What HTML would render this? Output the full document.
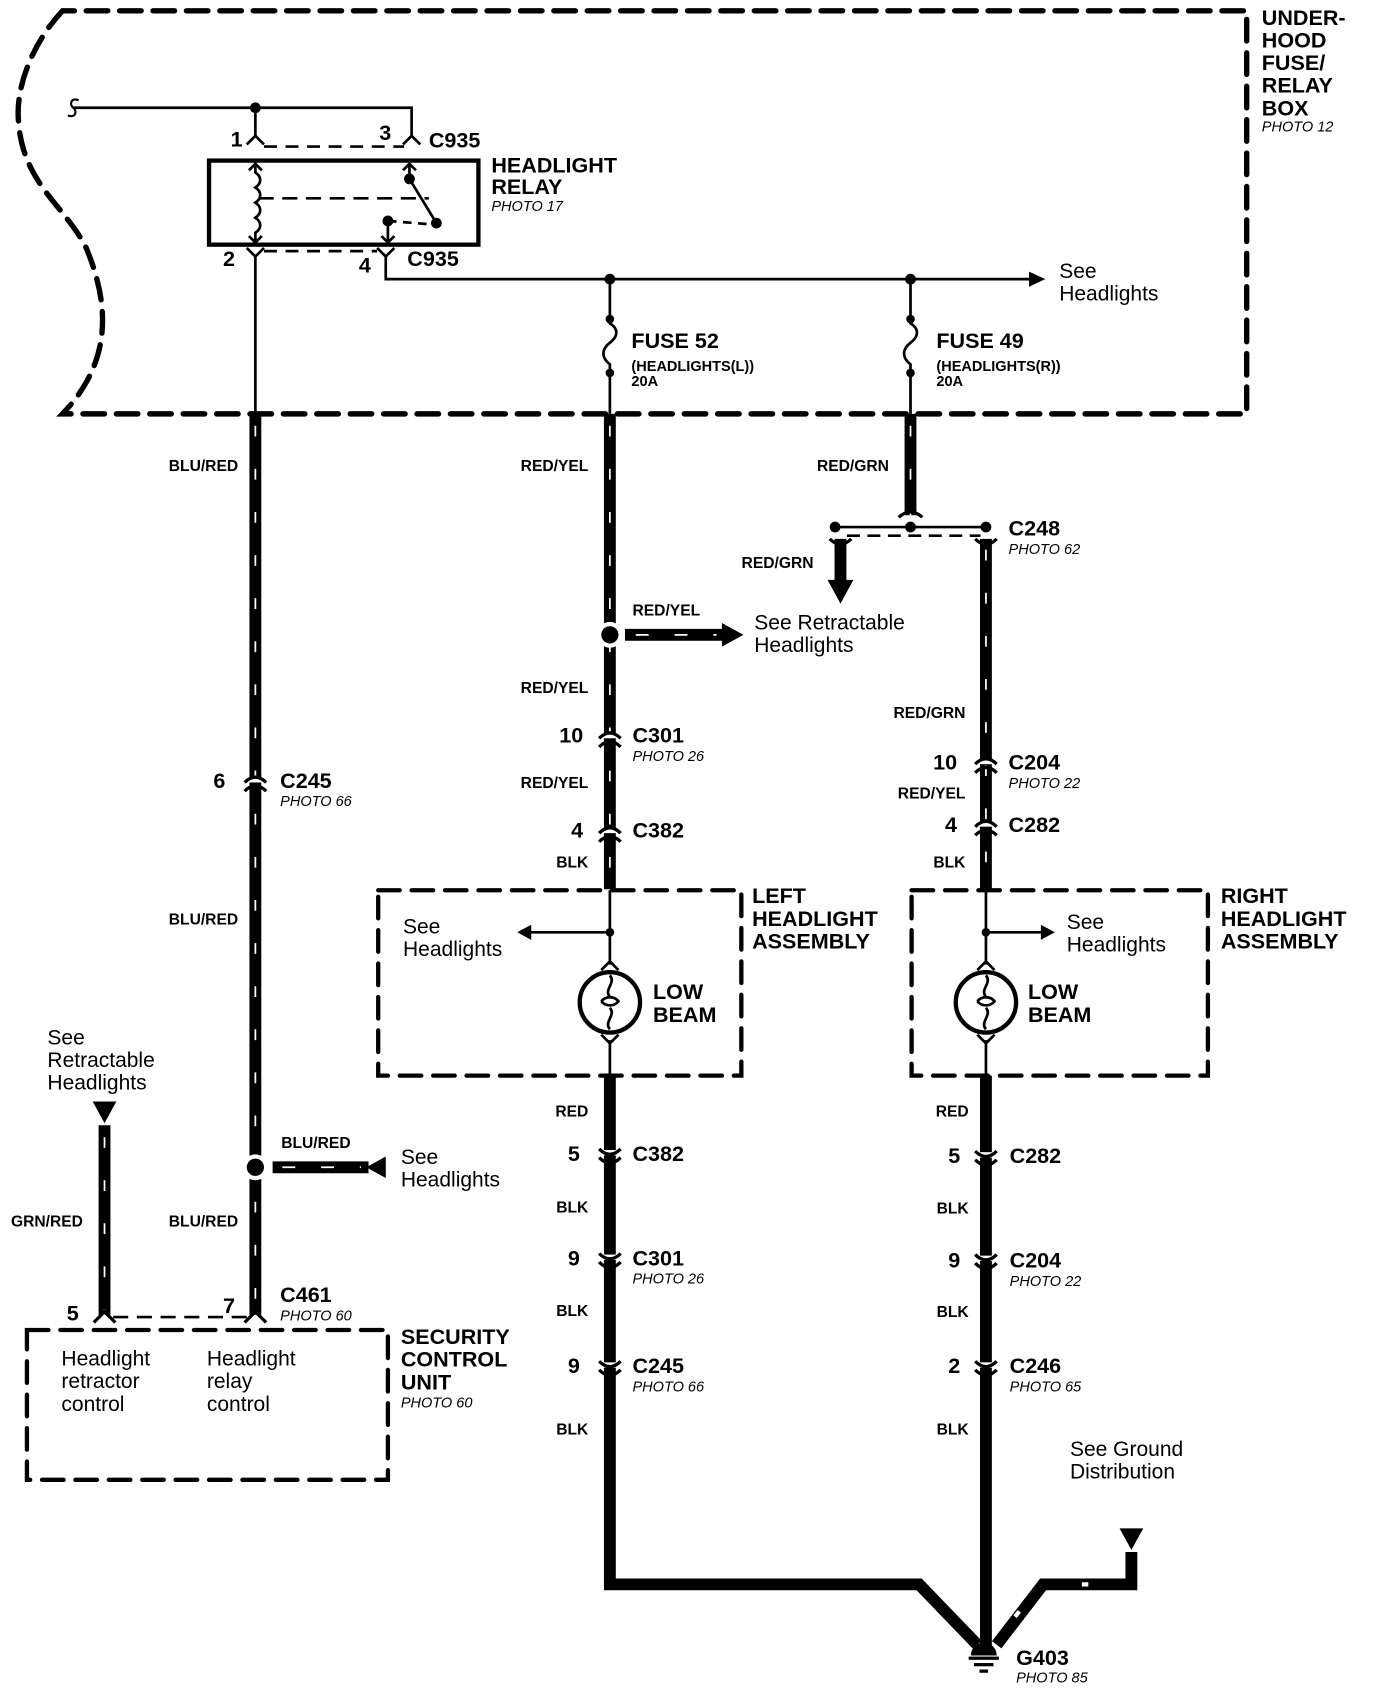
<!DOCTYPE html>
<html><head><meta charset="utf-8"><style>
html,body{margin:0;padding:0;background:#fff}
svg{display:block}
text{font-family:"Liberation Sans",Arial,sans-serif;fill:#000}
.b{font-weight:bold;font-size:20px}
.w{font-weight:bold;font-size:14.5px}
.i{font-style:italic;font-size:13.5px}
.r{font-size:19.5px}
</style></head><body>
<svg width="1376" height="1690" viewBox="0 0 1277 1568" preserveAspectRatio="none" xmlns="http://www.w3.org/2000/svg">
<g fill="none" stroke="#000" stroke-linecap="round">
<path d="M58,10 C30,40 15,80 17,110 C20,170 60,190 80,230 C105,290 100,340 58,384 L1157,384 L1157,10 Z" stroke-width="5" stroke-dasharray="20 11"/>
<rect x="351" y="826" width="337" height="172" stroke-width="4" stroke-dasharray="20 11"/>
<rect x="846" y="826" width="275" height="172" stroke-width="4" stroke-dasharray="20 11"/>
<rect x="25" y="1234" width="335" height="139" stroke-width="4" stroke-dasharray="20 11"/>
</g>
<g fill="none" stroke="#000" stroke-width="2.5">
<path d="M68,100 L382,100 L382,126"/>
<path d="M237,100 L237,126"/>
<path d="M73,93 C66,90 64,97 68,100 C72,103 70,110 63,107" stroke-width="2"/>
<path d="M229,134 L237,126 L245,134 M374,134 L382,126 L390,134"/>
<path d="M245,136 L375,136" stroke-dasharray="12 8"/>
<rect x="194" y="149" width="250" height="78" stroke-width="4"/>
<path d="M237,152 L237,160 C243,164 243,170 237,174 C243,178 243,184 237,188 C243,192 243,198 237,202 C243,206 243,212 237,216 L237,225"/>
<path d="M231,158 L237,152 L243,158 M231,219 L237,225 L243,219"/>
<path d="M240,184 L398,184" stroke-dasharray="14 8"/>
<path d="M380,152 L380,166 L405,207"/>
<path d="M374,158 L380,152 L386,158"/>
<path d="M360,205 L398,208" stroke-dasharray="8 6"/>
<path d="M360,205 L360,225 M354,219 L360,225 L366,219"/>
<path d="M229,230 L237,238 L245,230 M237,238 L237,384"/>
<path d="M350,230 L358,238 L366,230 M358,238 L358,259 L955,259"/>
<path d="M245,233 L350,233" stroke-dasharray="12 8"/>
<path d="M566,259 L566,300 C574,305 574,312 566,318 C558,324 558,332 566,338 L566,384"/>
<path d="M845,259 L845,300 C853,305 853,312 845,318 C837,324 837,332 845,338 L845,384"/>
<path d="M775,489 L915,489"/>
<path d="M786,497 L910,497" stroke-dasharray="12 7"/>
<path d="M566,826 L566,895 M566,965 L566,998 M566,865 L492,865"/>
<path d="M915,826 L915,895 M915,965 L915,998 M915,865 L968,865"/>
<path d="M558,900 L566,892 L574,900 M558,960 L566,968 L574,960 M907,900 L915,892 L923,900 M907,960 L915,968 L923,960"/>
<circle cx="566" cy="930" r="28" stroke-width="4"/>
<circle cx="915" cy="930" r="28" stroke-width="4"/>
<path d="M566,905 C572,912 560,918 566,925 M566,935 C572,942 560,948 566,955 M558,929 C562,924 570,924 574,929 C570,934 562,934 558,929"/>
<path d="M915,905 C921,912 909,918 915,925 M915,935 C921,942 909,948 915,955 M907,929 C911,924 919,924 923,929 C919,934 911,934 907,929"/>
<path d="M105,1222 L230,1222" stroke-dasharray="14 8"/>
</g>
<g fill="#000">
<circle cx="237" cy="100" r="5"/><circle cx="380" cy="166" r="5"/><circle cx="405" cy="207" r="5"/><circle cx="360" cy="205" r="5"/>
<circle cx="566" cy="259" r="5"/><circle cx="845" cy="259" r="5"/>
<circle cx="566" cy="296" r="4"/><circle cx="566" cy="346" r="4"/><circle cx="845" cy="296" r="4"/><circle cx="845" cy="346" r="4"/>
<circle cx="775" cy="489" r="5"/><circle cx="845" cy="489" r="5"/><circle cx="915" cy="489" r="5"/>
<circle cx="566" cy="865" r="4"/><circle cx="915" cy="865" r="4"/>
<polygon points="955,252 970,259 955,266"/>
<polygon points="493,858 480,865 493,872"/>
<polygon points="966,858 979,865 966,872"/>
<polygon points="670,578 690,589 670,600"/>
<polygon points="768,538 792,538 780,560"/>
<polygon points="340,1083 358,1073 358,1093"/>
<polygon points="86,1022 108,1022 97,1042"/>
<polygon points="1039,1418 1061,1418 1050,1438"/>
<path d="M901,1536 a12,12 0 0 1 24,0 Z"/>
<rect x="899" y="1537" width="28" height="3"/><rect x="904" y="1543" width="18" height="3"/><rect x="909" y="1549" width="8" height="3"/>
</g>
<g fill="none" stroke="#000" stroke-width="11">
<path d="M237,384 L237,1220"/>
<path d="M97,1044 L97,1220"/>
<path d="M566,384 L566,825"/>
<path d="M845,384 L845,478"/>
<path d="M780,500 L780,540"/>
<path d="M915,500 L915,826"/>
<path d="M580,589 L672,589"/>
<path d="M253,1083 L342,1083"/>
<path d="M566,998 L566,1470 L853,1470 L907,1526"/>
<path d="M915,998 L915,1528"/>
<path d="M925,1526 L968,1470 L1050,1470 L1050,1440"/>
</g>
<g fill="none" stroke="#fff" stroke-width="1.6">
<path d="M237,395 L237,1220 M97,1055 L97,1220 M566,395 L566,825 M845,395 L845,478 M915,510 L915,826" stroke-dasharray="10 30"/>
<path d="M590,589 L665,589 M262,1083 L335,1083" stroke-dasharray="12 24"/>
<path d="M1004,1470 L1010,1470 M942,1500 L946,1495" stroke-width="4"/>
</g>
<circle cx="566" cy="589" r="12" fill="#fff"/><circle cx="566" cy="589" r="8" fill="#000"/>
<circle cx="237" cy="1083" r="12" fill="#fff"/><circle cx="237" cy="1083" r="8" fill="#000"/>
<g>
<g fill="#fff"><rect x="225" y="721" width="24" height="5"/><rect x="554" y="680" width="24" height="5"/><rect x="554" y="768" width="24" height="5"/><rect x="903" y="704" width="24" height="5"/><rect x="903" y="762" width="24" height="5"/><rect x="554" y="1067" width="24" height="5"/><rect x="554" y="1164" width="24" height="5"/><rect x="554" y="1264" width="24" height="5"/><rect x="903" y="1069" width="24" height="5"/><rect x="903" y="1165" width="24" height="5"/><rect x="903" y="1264" width="24" height="5"/></g>
<g fill="none" stroke="#000" stroke-width="3">
<path d="M227,726 Q237,716 247,726 M227,734 Q237,724 247,734"/>
<path d="M556,685 Q566,675 576,685 M556,693 Q566,683 576,693"/>
<path d="M556,773 Q566,763 576,773 M556,781 Q566,771 576,781"/>
<path d="M905,709 Q915,699 925,709 M905,717 Q915,707 925,717"/>
<path d="M905,767 Q915,757 925,767 M905,775 Q915,765 925,775"/>
<path d="M556,1066 Q566,1076 576,1066 M556,1074 Q566,1084 576,1074"/>
<path d="M556,1163 Q566,1173 576,1163 M556,1171 Q566,1181 576,1171"/>
<path d="M556,1263 Q566,1273 576,1263 M556,1271 Q566,1281 576,1271"/>
<path d="M905,1068 Q915,1078 925,1068 M905,1076 Q915,1086 925,1076"/>
<path d="M905,1164 Q915,1174 925,1164 M905,1172 Q915,1182 925,1172"/>
<path d="M905,1263 Q915,1273 925,1263 M905,1271 Q915,1281 925,1271"/>
<path d="M834,480 Q845,470 856,480 M770,500 Q780,510 790,500 M905,500 Q915,510 925,500"/>
<path d="M87,1227 L97,1217 L107,1227 M227,1227 L237,1217 L247,1227"/>
</g>
</g>
<text class="b" x="1171" y="23">UNDER-</text><text class="b" x="1171" y="44">HOOD</text><text class="b" x="1171" y="65">FUSE/</text><text class="b" x="1171" y="86">RELAY</text><text class="b" x="1171" y="107">BOX</text><text class="i" x="1171" y="122">PHOTO 12</text>
<text class="b" x="214" y="136">1</text><text class="b" x="352" y="130">3</text><text class="b" x="398" y="137">C935</text>
<text class="b" x="207" y="247">2</text><text class="b" x="333" y="253">4</text><text class="b" x="378" y="247">C935</text>
<text class="b" x="456" y="160">HEADLIGHT</text><text class="b" x="456" y="180">RELAY</text><text class="i" x="456" y="196">PHOTO 17</text>
<text class="r" x="983" y="258">See</text><text class="r" x="983" y="279">Headlights</text>
<text class="b" x="586" y="323">FUSE 52</text><text class="w" x="586" y="344" style="font-size:13.5px">(HEADLIGHTS(L))</text><text class="w" x="586" y="358" style="font-size:13.5px">20A</text>
<text class="b" x="869" y="323">FUSE 49</text><text class="w" x="869" y="344" style="font-size:13.5px">(HEADLIGHTS(R))</text><text class="w" x="869" y="358" style="font-size:13.5px">20A</text>
<g class="w" text-anchor="end">
<text x="221" y="437">BLU/RED</text><text x="221" y="858">BLU/RED</text><text x="221" y="1138">BLU/RED</text><text x="77" y="1138">GRN/RED</text>
<text x="546" y="437">RED/YEL</text><text x="546" y="643">RED/YEL</text><text x="546" y="731">RED/YEL</text><text x="546" y="805">BLK</text>
<text x="546" y="1036">RED</text><text x="546" y="1125">BLK</text><text x="546" y="1221">BLK</text><text x="546" y="1331">BLK</text>
<text x="825" y="437">RED/GRN</text><text x="755" y="527">RED/GRN</text><text x="896" y="666">RED/GRN</text><text x="896" y="741">RED/YEL</text><text x="896" y="805">BLK</text>
<text x="899" y="1036">RED</text><text x="899" y="1126">BLK</text><text x="899" y="1222">BLK</text><text x="899" y="1331">BLK</text>
</g>
<text class="w" x="587" y="571">RED/YEL</text><text class="w" x="261" y="1065">BLU/RED</text>
<text class="r" x="700" y="584">See Retractable</text><text class="r" x="700" y="605">Headlights</text>
<text class="b" x="936" y="497">C248</text><text class="i" x="936" y="514">PHOTO 62</text>
<text class="b" x="198" y="731">6</text><text class="b" x="260" y="731">C245</text><text class="i" x="260" y="748">PHOTO 66</text>
<text class="b" x="519" y="689">10</text><text class="b" x="587" y="689">C301</text><text class="i" x="587" y="706">PHOTO 26</text>
<text class="b" x="530" y="777">4</text><text class="b" x="587" y="777">C382</text>
<text class="b" x="866" y="714">10</text><text class="b" x="936" y="714">C204</text><text class="i" x="936" y="731">PHOTO 22</text>
<text class="b" x="877" y="772">4</text><text class="b" x="936" y="772">C282</text>
<text class="r" x="374" y="866">See</text><text class="r" x="374" y="887">Headlights</text>
<text class="r" x="990" y="862">See</text><text class="r" x="990" y="883">Headlights</text>
<text class="b" x="606" y="927">LOW</text><text class="b" x="606" y="948">BEAM</text>
<text class="b" x="954" y="927">LOW</text><text class="b" x="954" y="948">BEAM</text>
<text class="b" x="698" y="838">LEFT</text><text class="b" x="698" y="859">HEADLIGHT</text><text class="b" x="698" y="880">ASSEMBLY</text>
<text class="b" x="1133" y="838">RIGHT</text><text class="b" x="1133" y="859">HEADLIGHT</text><text class="b" x="1133" y="880">ASSEMBLY</text>
<text class="r" x="44" y="969">See</text><text class="r" x="44" y="990">Retractable</text><text class="r" x="44" y="1011">Headlights</text>
<text class="r" x="372" y="1080">See</text><text class="r" x="372" y="1101">Headlights</text>
<text class="b" x="527" y="1077">5</text><text class="b" x="587" y="1077">C382</text>
<text class="b" x="527" y="1174">9</text><text class="b" x="587" y="1174">C301</text><text class="i" x="587" y="1191">PHOTO 26</text>
<text class="b" x="527" y="1274">9</text><text class="b" x="587" y="1274">C245</text><text class="i" x="587" y="1291">PHOTO 66</text>
<text class="b" x="880" y="1079">5</text><text class="b" x="937" y="1079">C282</text>
<text class="b" x="880" y="1176">9</text><text class="b" x="937" y="1176">C204</text><text class="i" x="937" y="1193">PHOTO 22</text>
<text class="b" x="880" y="1274">2</text><text class="b" x="937" y="1274">C246</text><text class="i" x="937" y="1291">PHOTO 65</text>
<text class="r" x="993" y="1351">See Ground</text><text class="r" x="993" y="1372">Distribution</text>
<text class="b" x="943" y="1545">G403</text><text class="i" x="943" y="1561">PHOTO 85</text>
<text class="b" x="62" y="1225">5</text><text class="b" x="207" y="1218">7</text>
<text class="b" x="260" y="1208">C461</text><text class="i" x="260" y="1225">PHOTO 60</text>
<text class="r" x="57" y="1267">Headlight</text><text class="r" x="57" y="1288">retractor</text><text class="r" x="57" y="1309">control</text>
<text class="r" x="192" y="1267">Headlight</text><text class="r" x="192" y="1288">relay</text><text class="r" x="192" y="1309">control</text>
<text class="b" x="372" y="1247">SECURITY</text><text class="b" x="372" y="1268">CONTROL</text><text class="b" x="372" y="1289">UNIT</text><text class="i" x="372" y="1306">PHOTO 60</text>
</svg>
</body></html>
